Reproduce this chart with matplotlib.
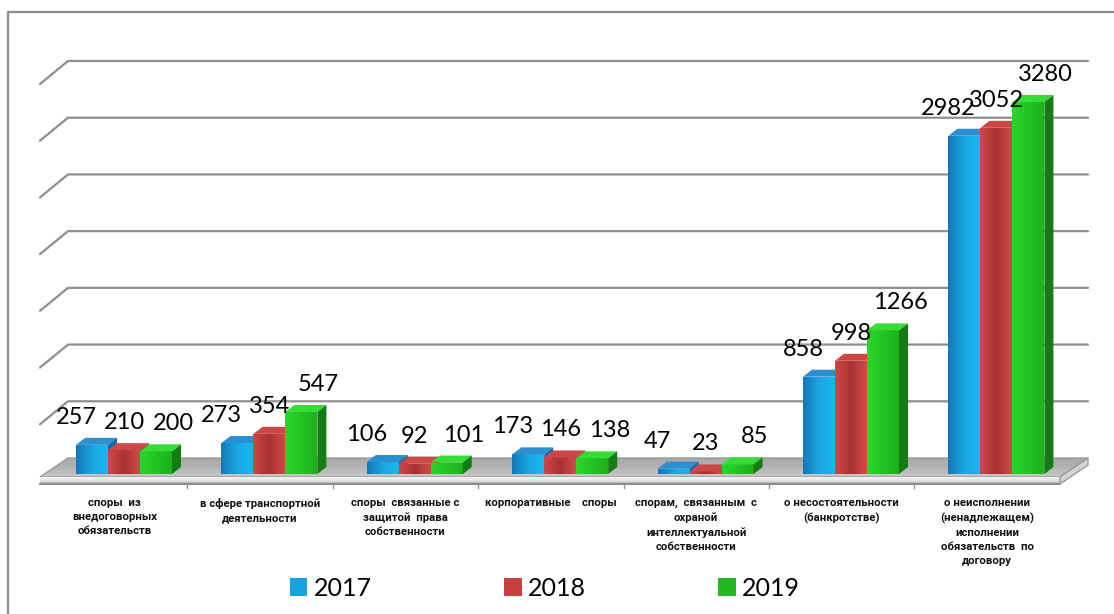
import numpy as np
import matplotlib.pyplot as plt
from matplotlib.patches import Polygon, Rectangle
from matplotlib.lines import Line2D
from matplotlib.colors import LinearSegmentedColormap

# --- data ---
categories = [
    "споры  из\nвнедоговорных\nобязательств",
    "в сфере транспортной\nдеятельности",
    "споры  связанные с\nзащитой  права\nсобственности",
    "корпоративные    споры",
    "спорам,  связанным  с\nохраной\nинтеллектуальной\nсобственности",
    "о несостоятельности\n(банкротстве)",
    "о неисполнении\n(ненадлежащем)\nисполнении\nобязательств  по\nдоговору",
]
years = ["2017", "2018", "2019"]
v2017 = [257, 273, 106, 173, 47, 858, 2982]
v2018 = [210, 354, 92, 146, 23, 998, 3052]
v2019 = [200, 547, 101, 138, 85, 1266, 3280]

W, H = 1114, 614
fig = plt.figure(figsize=(W / 100, H / 100), dpi=100)
ax = fig.add_axes([0, 0, 1, 1])
ax.axis("off")

# pixel geometry of the 3d box, converted to data units
CAT_PX = 145.4          # px per category
K = 397 / 3500          # px per value unit
X0 = 114.6              # px of first category centre
Y0 = 474                # px of bar base (front)
PX = 1 / CAT_PX
PY = 1 / K
ax.set_xlim(-X0 * PX, (W - X0) * PX)
ax.set_ylim(-(H - Y0) * PY, Y0 * PY)

BACK_L, BACK_R = (68 - X0) * PX, (1088 - X0) * PX
FRONT_L, FRONT_R = (40 - X0) * PX, (1060 - X0) * PX
BACK_Y = 16 * PY        # back wall zero
WALL_DY = 23 * PY
FLOOR_FRONT = -3 * PY
SLAB = 7 * PY

BW = 32 * PX
BAR_OFF = (76 - X0) * PX
DX, DY = 9 * PX, 7 * PY


def grad_poly(verts, cols, horiz=True, z=3):
    verts = np.array(verts)
    poly = Polygon(verts, closed=True, facecolor="none", edgecolor="none", zorder=z)
    ax.add_patch(poly)
    cmap = LinearSegmentedColormap.from_list("g", cols)
    g = np.linspace(0, 1, 64)
    img = g[None, :] if horiz else g[:, None]
    x0, x1 = verts[:, 0].min(), verts[:, 0].max()
    y0, y1 = verts[:, 1].min(), verts[:, 1].max()
    im = ax.imshow(img, cmap=cmap, extent=(x0, x1, y0, y1), origin="lower",
                   aspect="auto", zorder=z, interpolation="bilinear")
    im.set_clip_path(poly)


# gridlines on back and side wall
for v in range(500, 3501, 500):
    yb = v + BACK_Y
    ax.plot([FRONT_L, BACK_L, BACK_R], [yb - WALL_DY, yb, yb],
            color="#8f8f8f", lw=1.6, zorder=1, solid_capstyle="round")

# floor
floor = [(FRONT_L, FLOOR_FRONT), (FRONT_R, FLOOR_FRONT), (BACK_R, BACK_Y), (BACK_L, BACK_Y)]
grad_poly(floor, ["#c9c9c9", "#b3b3b3", "#a9a9a9"], horiz=False, z=2)
ax.add_patch(Polygon(floor, closed=True, facecolor="none", edgecolor="#9a9a9a", lw=1, zorder=2))
grad_poly([(FRONT_L, FLOOR_FRONT - SLAB), (FRONT_R, FLOOR_FRONT - SLAB), (FRONT_R, FLOOR_FRONT),
           (FRONT_L, FLOOR_FRONT)], ["#a8a8a8", "#e6e6e6", "#f2f2f2"], horiz=False, z=2)
ax.plot([FRONT_L, FRONT_R], [FLOOR_FRONT - SLAB] * 2, color="#8a8a8a", lw=1.4, zorder=2)
ax.add_patch(Polygon([(FRONT_R, FLOOR_FRONT), (BACK_R, BACK_Y), (BACK_R, BACK_Y - SLAB),
                      (FRONT_R, FLOOR_FRONT - SLAB)], closed=True, facecolor="#d4d4d4",
                     edgecolor="#9a9a9a", lw=1, zorder=2))
for c in range(len(categories) - 1):
    ax.plot([c + 0.5, c + 0.5], [FLOOR_FRONT - SLAB, FLOOR_FRONT - SLAB - 4 * PY],
            color="#909090", lw=1, zorder=2)

# bars
styles = [
    dict(front=["#1577b8", "#1aa6e0", "#17b9f2"], top="#2b8fd2", side="#0f6aa5", leg="#19a3de"),
    dict(front=["#cf4747", "#a93232", "#d24a4a"], top="#cc4848", side="#9c2c2c", leg="#c94040"),
    dict(front=["#2ad62a", "#22c422", "#1fb01f"], top="#36dc36", side="#137d13", leg="#22b822"),
]
series = [v2017, v2018, v2019]
shifts = [-16 * PX, 0, 17 * PX]
for c in range(len(categories)):
    for s, vals in enumerate(series):
        v = vals[c]
        st = styles[s]
        l = c + BAR_OFF + s * BW
        grad_poly([(l, 0), (l + BW, 0), (l + BW, v), (l, v)], st["front"], z=3 + c)
        ax.add_patch(Polygon([(l, v), (l + BW, v), (l + BW + DX, v + DY), (l + DX, v + DY)],
                             closed=True, facecolor=st["top"], edgecolor="none", zorder=3 + c))
        ax.add_patch(Polygon([(l + BW, 0), (l + BW + DX, DY), (l + BW + DX, v + DY), (l + BW, v)],
                             closed=True, facecolor=st["side"], edgecolor="none", zorder=3 + c))
        ax.text(l + BW / 2 + shifts[s], v + 21 * PY, str(v), ha="center", va="baseline",
                fontsize=17, family="Lato", color="black", zorder=20)

# category labels
for c, name in enumerate(categories):
    ax.text(c, (Y0 - 498) * PY, name, ha="center", va="top", fontsize=8.2,
            fontweight="bold", family=["Roboto", "DejaVu Sans"],
            linespacing=1.5, color="#111111")

# legend
handles = [Rectangle((0, 0), 1, 1, facecolor=st["leg"], edgecolor="none") for st in styles]
fig.legend(handles, years, loc="center", bbox_to_anchor=(545 / W, 1 - 588 / H), ncol=3,
           frameon=False, prop={"family": "Lato", "size": 18}, handlelength=0.7,
           handleheight=0.7, handletextpad=0.25, columnspacing=5.3)

# outer frame
fig.add_artist(Line2D([8 / W, 8 / W, 1], [0, 1 - 12 / H, 1 - 12 / H],
                      transform=fig.transFigure, color="#8c8c8c", lw=1.6))

fig.savefig("out.png", dpi=100)
